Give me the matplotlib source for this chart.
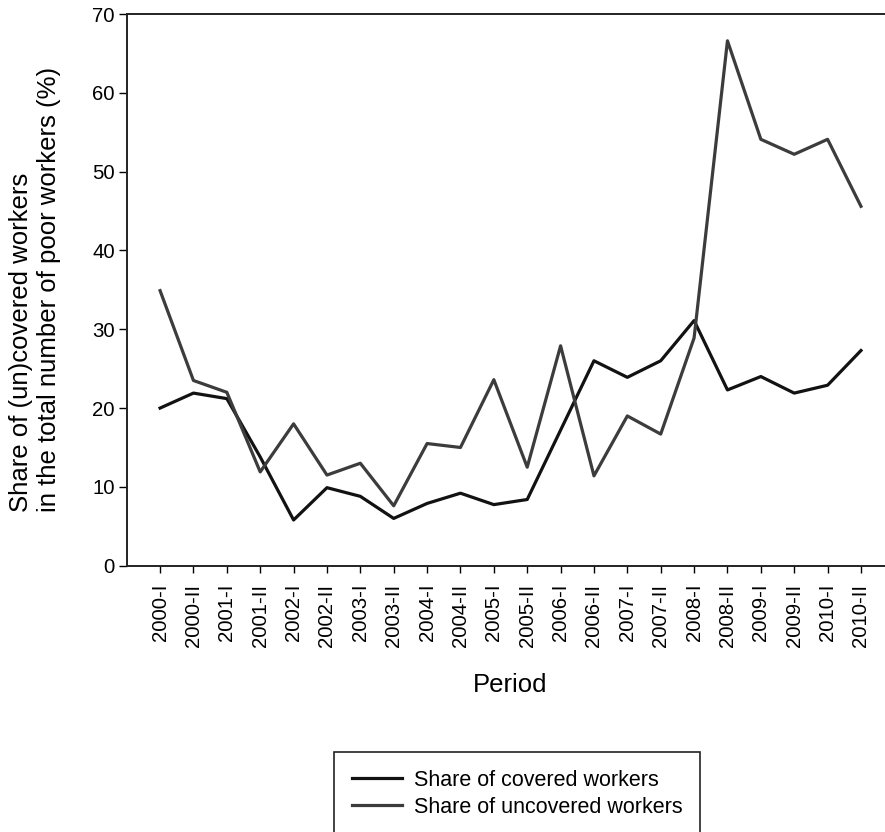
import matplotlib
matplotlib.use("Agg")
from matplotlib import pyplot as plt
from matplotlib.lines import Line2D

plt.rcParams['font.family'] = ['Liberation Sans', 'DejaVu Sans']

# periods (half-years)
periods = ['2000-I', '2000-II', '2001-I', '2001-II', '2002-I', '2002-II',
           '2003-I', '2003-II', '2004-I', '2004-II', '2005-I', '2005-II',
           '2006-I', '2006-II', '2007-I', '2007-II', '2008-I', '2008-II',
           '2009-I', '2009-II', '2010-I', '2010-II']

# share of covered workers (%)
covered = [20.0, 21.9, 21.2, 13.8, 5.8, 9.9, 8.8, 6.0, 7.9, 9.2, 7.75,
           8.4, 17.2, 26.0, 23.9, 26.0, 31.1, 22.3, 24.0, 21.9, 22.9, 27.3]

# share of uncovered workers (%)
uncovered = [34.9, 23.5, 22.0, 11.9, 18.0, 11.5, 13.0, 7.6, 15.5, 15.0, 23.6,
             12.5, 27.9, 11.4, 19.0, 16.7, 28.9, 66.6, 54.1, 52.2, 54.1, 45.6]

fig = plt.figure(figsize=(8.85, 8.32), dpi=100)
ax = fig.add_axes([126.7 / 885, 1 - 565.7 / 832, 1 - 126.7 / 885, (565.7 - 14) / 832])

x = list(range(len(periods)))
l1, = ax.plot(x, covered, color='#121212', lw=2.3, label='Share of covered workers')
l2, = ax.plot(x, uncovered, color='#3c3c3c', lw=2.3, label='Share of uncovered workers')

ax.set_xlim(-1, 21.72)
ax.set_ylim(0, 70)
ax.set_yticks(range(0, 71, 10))
ax.set_xticks(x)
ax.set_xticklabels(periods, rotation=90, fontsize=14.7)
ax.tick_params(axis='y', labelsize=14.7, length=5.5, width=1.0, pad=3, direction='out')
ax.tick_params(axis='x', length=5.0, width=1.0, pad=8, direction='out')

ax.spines['right'].set_visible(False)
for s in ['left', 'bottom', 'top']:
    ax.spines[s].set_linewidth(1.4)
    ax.spines[s].set_color('#222222')

# y label: two lines, left aligned
ax.set_ylabel('Share of (un)covered workers\nin the total number of poor workers (%)',
              fontsize=18.5, multialignment='left')
ax.yaxis.set_label_coords((61 - 126.7) / (885 - 126.7), (565.7 - 289) / (565.7 - 14))
ax.set_xlabel('Period', fontsize=18.5)
ax.xaxis.set_label_coords((510 - 126.7) / (885 - 126.7), -(673 - 565.7) / (565.7 - 14))

# blank third entry so the box runs off the bottom like the original
blank = Line2D([], [], color='none', label=' ')
leg = fig.legend(handles=[l1, l2, blank], loc='upper left',
                 bbox_to_anchor=(334.3 / 885, 1 - 752.3 / 832),
                 borderaxespad=0, fancybox=False, framealpha=1,
                 edgecolor='#222222', fontsize=15.5, handlelength=2.36,
                 handletextpad=0.54, borderpad=0.8, labelspacing=0.28)
leg.get_frame().set_linewidth(1.2)

fig.savefig('out.png', dpi=100)
